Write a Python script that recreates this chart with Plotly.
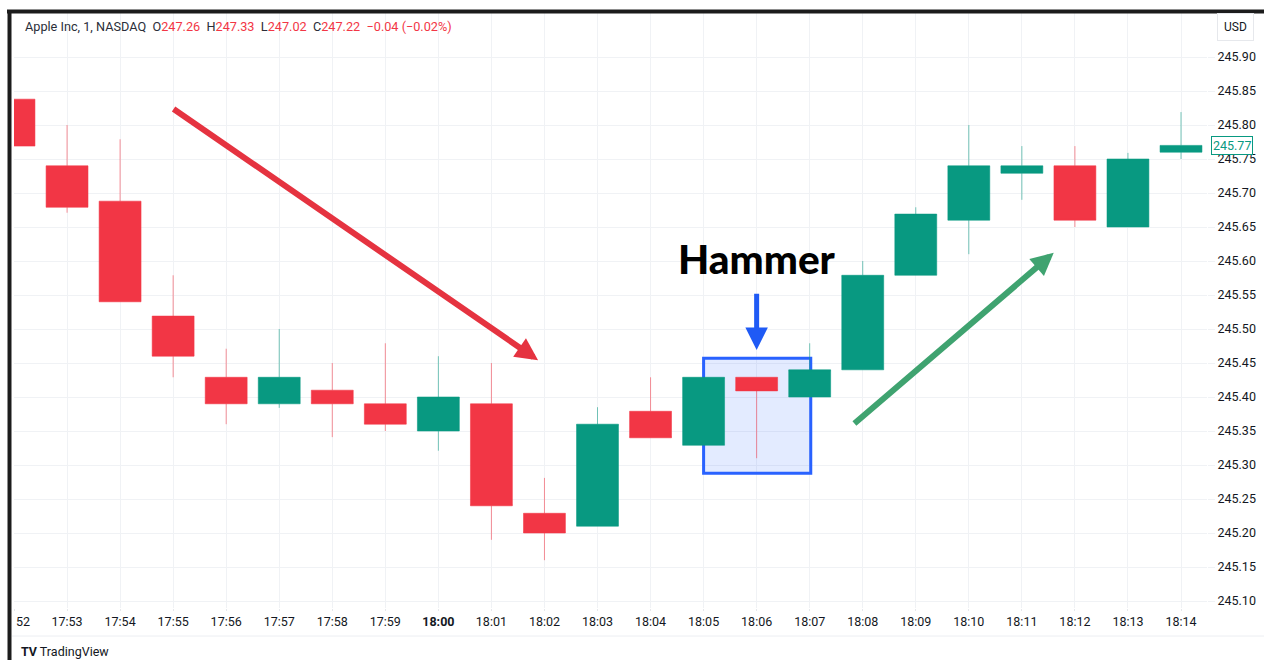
import plotly.graph_objects as go

# ---------------- data ----------------
times = ["17:52", "17:53", "17:54", "17:55", "17:56", "17:57", "17:58", "17:59",
         "18:00", "18:01", "18:02", "18:03", "18:04", "18:05", "18:06", "18:07",
         "18:08", "18:09", "18:10", "18:11", "18:12", "18:13", "18:14"]
opens = [245.838, 245.740, 245.688, 245.519, 245.429, 245.390, 245.410, 245.390,
         245.350, 245.390, 245.229, 245.210, 245.379, 245.329, 245.429, 245.400,
         245.440, 245.579, 245.660, 245.729, 245.740, 245.650, 245.760]
highs = [245.838, 245.800, 245.779, 245.579, 245.471, 245.500, 245.450, 245.479,
         245.460, 245.450, 245.281, 245.385, 245.429, 245.429, 245.429, 245.479,
         245.600, 245.679, 245.800, 245.769, 245.769, 245.759, 245.819]
lows = [245.769, 245.671, 245.540, 245.429, 245.360, 245.384, 245.341, 245.350,
        245.321, 245.190, 245.160, 245.210, 245.340, 245.329, 245.310, 245.400,
        245.440, 245.579, 245.610, 245.690, 245.650, 245.650, 245.750]
closes = [245.769, 245.679, 245.540, 245.460, 245.390, 245.429, 245.390, 245.360,
          245.400, 245.240, 245.200, 245.360, 245.340, 245.429, 245.409, 245.440,
          245.579, 245.669, 245.740, 245.740, 245.660, 245.750, 245.770]
price_ticks = [245.10, 245.15, 245.20, 245.25, 245.30, 245.35, 245.40, 245.45,
               245.50, 245.55, 245.60, 245.65, 245.70, 245.75, 245.80, 245.85, 245.90]
bold_time = "18:00"
clipped_first_label = "52"
last_price = 245.77
header_name = "Apple Inc, 1, NASDAQ"
header_vals = [("O", "247.26"), ("H", "247.33"), ("L", "247.02"), ("C", "247.22")]
header_change = "\u22120.04 (\u22120.02%)"

RED = "#F23645"
GREEN = "#089981"
TXT = "#131722"
GRID = "#f0f2f5"

fig = go.Figure()
fig.add_trace(go.Candlestick(
    x=times, open=opens, high=highs, low=lows, close=closes,
    increasing=dict(fillcolor=GREEN, line=dict(color="rgba(8,153,129,0.55)", width=1)),
    decreasing=dict(fillcolor=RED, line=dict(color="rgba(242,54,69,0.55)", width=1)),
    whiskerwidth=0, showlegend=False, hoverinfo="skip",
))

ticktext = [("<b>%s</b>" % t) if t == bold_time else t for t in times]
ticktext[0] = ""  # first label is only partly visible; drawn as "52" below

# plot area geometry (pixels) used to convert decoration positions
L, R, T, B = 14, 1207, 13, 608
W, H = R - L, B - T
def px(xp):
    return (xp - L) / W
def py(yp):
    return (B - yp) / H

fig.update_layout(
    width=1264, height=660,
    margin=dict(l=L, r=1264 - R, t=T, b=660 - B, autoexpand=False),
    paper_bgcolor="white", plot_bgcolor="white",
    font=dict(family="Roboto, Inter, sans-serif", color=TXT, size=12),
    boxgap=0.21, boxgroupgap=0,
    xaxis=dict(
        type="category", range=[0, 22.49], rangeslider=dict(visible=False),
        tickmode="array", tickvals=times, ticktext=ticktext,
        showgrid=True, gridcolor=GRID, gridwidth=1,
        ticks="outside", ticklen=2, tickcolor="#e6e8ec",
        tickfont=dict(size=12.5, color=TXT), zeroline=False, showline=False,
        fixedrange=True, automargin=False,
    ),
    yaxis=dict(
        side="right", range=[245.0897, 245.9647],
        tickmode="array", tickvals=price_ticks,
        ticktext=["%.2f" % v for v in price_ticks],
        showgrid=True, gridcolor=GRID, gridwidth=1,
        ticks="outside", ticklen=7, tickcolor=GRID,
        tickfont=dict(size=12.5, color=TXT), zeroline=False, showline=False,
        automargin=False,
    ),
)

shapes = []
# bottom axis band separator
shapes.append(dict(type="line", xref="paper", yref="paper", x0=px(12), x1=px(1264), y0=py(636), y1=py(636),
                   line=dict(color="#eceef2", width=1), layer="above"))
# black frame (top and left)
shapes.append(dict(type="line", xref="paper", yref="paper", x0=px(7), x1=px(1266), y0=py(11.5), y1=py(11.5),
                   line=dict(color="#1c1c1c", width=4), layer="above"))
shapes.append(dict(type="line", xref="paper", yref="paper", x0=px(9.5), x1=px(9.5), y0=py(10), y1=py(662),
                   line=dict(color="#1c1c1c", width=4), layer="above"))
# hammer highlight box (beneath the candles)
shapes.append(dict(type="rect", xref="x", yref="y", x0=13.0, x1=15.02, y0=245.288, y1=245.457,
                   fillcolor="rgba(41,98,255,0.13)", line=dict(color="#2962FF", width=3), layer="between"))
fig.update_layout(shapes=shapes)

annos = []
# header
hdr = '<span style="color:%s">%s</span>' % ("#2a2e39", header_name)
for k, v in header_vals:
    hdr += '&nbsp;&nbsp;<span style="color:#2a2e39">%s</span><span style="color:%s">%s</span>' % (k, RED, v)
hdr += '&nbsp;&nbsp;<span style="color:%s">%s</span>' % (RED, header_change)
annos.append(dict(xref="paper", yref="paper", x=px(23), y=py(26), xanchor="left", yanchor="middle",
                  text=hdr, showarrow=False, font=dict(size=12.7, family="Roboto, sans-serif")))
# partly visible first time label
annos.append(dict(xref="paper", yref="paper", x=px(14), y=py(621), xanchor="left", yanchor="middle",
                  text=clipped_first_label, showarrow=False, font=dict(size=12.5, color=TXT)))
# USD box
annos.append(dict(xref="paper", yref="paper", x=px(1235), y=py(27), xanchor="center", yanchor="middle",
                  text="USD", showarrow=False, font=dict(size=12, color=TXT),
                  bordercolor="#e6e8ec", borderwidth=1, borderpad=6, bgcolor="white"))
# last price label
annos.append(dict(xref="paper", yref="y", x=px(1211), y=last_price, xanchor="left", yanchor="middle",
                  text="%.2f" % last_price, showarrow=False, font=dict(size=12.5, color=GREEN),
                  bordercolor=GREEN, borderwidth=1, borderpad=1, bgcolor="white"))
# TradingView watermark
annos.append(dict(xref="paper", yref="paper", x=px(19), y=py(651), xanchor="left", yanchor="middle",
                  text="<b>TV</b> TradingView", showarrow=False, font=dict(size=12.5, color=TXT)))
# red down-trend arrow
annos.append(dict(xref="x", yref="y", axref="x", ayref="y", x=9.88, y=245.454, ax=2.98, ay=245.825,
                  text="", showarrow=True, arrowhead=2, arrowsize=0.75, arrowwidth=6,
                  arrowcolor="#E53340", standoff=0, startstandoff=0))
# green up-trend arrow
annos.append(dict(xref="x", yref="y", axref="x", ayref="y", x=19.60, y=245.612, ax=15.815, ay=245.359,
                  text="", showarrow=True, arrowhead=2, arrowsize=0.75, arrowwidth=6,
                  arrowcolor="#3FA370", standoff=0, startstandoff=0))
# blue arrow to hammer
annos.append(dict(xref="x", yref="y", axref="x", ayref="y", x=14.0, y=245.469, ax=14.0, ay=245.554,
                  text="", showarrow=True, arrowhead=2, arrowsize=0.9, arrowwidth=5,
                  arrowcolor="#1F5AF5", standoff=0, startstandoff=0))
# Hammer label
annos.append(dict(xref="x", yref="y", x=14.0, y=245.603, xanchor="center", yanchor="middle",
                  text="Hammer", showarrow=False,
                  font=dict(family="Lato", size=40.5, color="black", weight=900)))
fig.update_layout(annotations=annos)

fig.write_html("out.html", config={"displayModeBar": False},
               post_script="document.body.style.margin='0';document.body.style.padding='0';")
